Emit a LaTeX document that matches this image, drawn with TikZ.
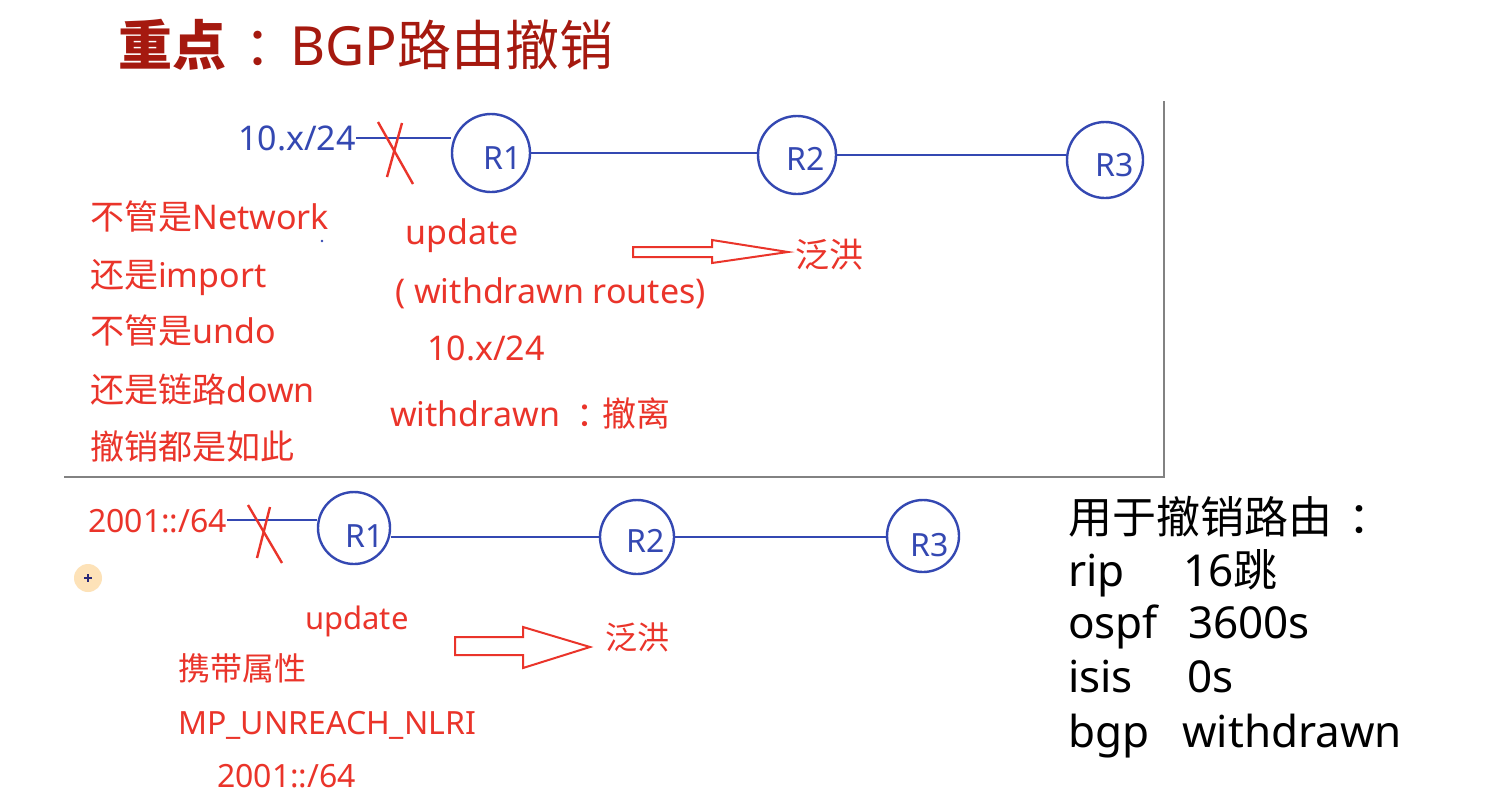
\documentclass[tikz,border=0pt]{standalone}
\usepackage{fontspec}
\setmainfont{Noto Sans}
\newfontfamily\cjk{Noto Sans CJK SC}
\usetikzlibrary{positioning,calc}

\definecolor{titlered}{RGB}{165,25,15}
\definecolor{notered}{RGB}{234,52,42}
\definecolor{routerblue}{RGB}{52,72,178}
\definecolor{framegray}{RGB}{130,130,130}
\definecolor{cursorbg}{RGB}{253,226,184}
\definecolor{cursorfg}{RGB}{40,40,120}

\tikzset{
  fs/.style={font=\fontsize{#1}{#1}\selectfont,text height=0.88*#1pt,text depth=0.12*#1pt,inner sep=0pt},
  router/.style={draw=routerblue,line width=2.4pt,circle,minimum size=#1,inner sep=0pt},
  router/.default=76pt,
  rname/.style={fs=32,text=routerblue},
  link/.style={draw=routerblue,line width=2.4pt},
  note/.style={fs=#1,text=notered,anchor=west},
  note/.default=34,
  cross/.style={draw=notered,line width=2.4pt},
  hollow/.style={draw=notered,line width=2pt,fill=white,line join=miter},
  frame/.style={draw=framegray,line width=2.2pt},
  summary/.style={fs=44,text=black,anchor=west}
}

\begin{document}
\begin{tikzpicture}[x=1pt,y=-1pt]
    \fill[white] (0,0) rectangle (1485,804);
    \useasboundingbox (0,0) rectangle (1485,804);

    % title
    \node[fs=54,text=titlered,anchor=west] (title) at (118,45) {{\cjk\bfseries 重点}\kern18pt{\cjk ：}\kern-8pt BGP{\cjk 路由撤销}};

    % frame round the IPv4 case
    \draw[frame] (1164,101) -- (1164,477) -- (64,477);

    % IPv4: routers
    \node[fs=34,text=routerblue,anchor=west] (net4) at (238,138) {10.x/24};
    \node[router=78pt] (ar1) at (491,153) {};
    \node[router=78pt] (ar2) at (797,155) {};
    \node[router=76pt] (ar3) at (1105,160) {};
    \node[rname] (ar1l) at ($(ar1)+(12,4)$) {R1};
    \node[rname] (ar2l) at ($(ar2)+(9,3)$) {R2};
    \node[rname] (ar3l) at ($(ar3)+(10,4)$) {R3};
    \draw[link] (net4.east) -- (net4.east -| ar1.west);
    \draw[link] (ar1.east) -- (ar1.east -| ar2.west);
    \draw[link] (ar2.east) -- (ar2.east -| ar3.west);
    \draw[cross] (378,122) -- (413,184);
    \draw[cross] (402,123) -- (387,177);

    % IPv4: notes
    \node[note] (n1) at (90,217) {{\cjk 不管是}Network};
    \node[note] (n2) at (90,275) {{\cjk 还是}import};
    \node[note] (n3) at (90,331) {{\cjk 不管是}undo};
    \node[note] (n4) at (90,390) {{\cjk 还是链路}down};
    \node[note] (n5) at (90,447) {\cjk 撤销都是如此};
    \fill[routerblue] (322,241) circle (1.3);

    \node[note] (upd4) at (405,232) {update};
    \node[note] (wr4) at (395,291) {( withdrawn routes)};
    \node[note] (pfx4) at (427,348) {10.x/24};
    \node[note] (wd4) at (390,414) {withdrawn\kern16pt{\cjk ：}\kern-8pt{\cjk 撤离}};
    \node[note] (flood4) at (795,255) {\cjk 泛洪};
    \draw[hollow] (633,247) -- (712,247) -- (712,240) -- (788,252)
        -- (712,263) -- (712,257) -- (633,257) -- cycle;

    % IPv6: routers
    \node[note=32] (net6) at (88,520) {2001::/64};
    \node[router=72pt] (br1) at (354,528) {};
    \node[router=74pt] (br2) at (637,537) {};
    \node[router=72pt] (br3) at (923,536) {};
    \node[rname] (br1l) at ($(br1)+(11,7)$) {R1};
    \node[rname] (br2l) at ($(br2)+(9,3)$) {R2};
    \node[rname] (br3l) at ($(br3)+(7,8)$) {R3};
    \draw[link] (net6.east) -- (net6.east -| br1.west);
    \draw[link] (br2.west) -- (br2.west -| br1.east);
    \draw[link] (br2.east) -- (br2.east -| br3.west);
    \draw[cross] (248,505) -- (282,563);
    \draw[cross] (270,507) -- (257,558);

    % cursor
    \fill[cursorbg] (88,578) circle (14);
    \draw[cursorfg,line width=1.5pt] (84,578) -- (92,578) (88,574) -- (88,582);

    % IPv6: notes
    \node[note=31] (upd6) at (305,618) {update};
    \node[note=32] (flood6) at (605,637) {\cjk 泛洪};
    \draw[hollow] (455,637) -- (523,637) -- (523,627) -- (590,647)
        -- (523,668) -- (523,655) -- (455,655) -- cycle;
    \node[note=32] (attr6) at (178,668) {\cjk 携带属性};
    \node[note=32] (mp6) at (178,722) {MP\_UNREACH\_NLRI};
    \node[note=32] (pfx6) at (217,775) {2001::/64};

    % summary
    \node[summary] (sum) at (1068,517) {{\cjk 用于撤销路由}\kern16pt{\cjk ：}};
    \node[summary] (rip) at (1068,570) {rip};
    \node[summary] (ripv) at (1183,570) {16{\cjk 跳}};
    \node[summary] (ospf) at (1068,622) {ospf};
    \node[summary] (ospfv) at (1188,622) {3600s};
    \node[summary] (isis) at (1068,676) {isis};
    \node[summary] (isisv) at (1187,676) {0s};
    \node[summary] (bgp) at (1068,731) {bgp};
    \node[summary] (bgpv) at (1182,731) {withdrawn};
\end{tikzpicture}
\end{document}
